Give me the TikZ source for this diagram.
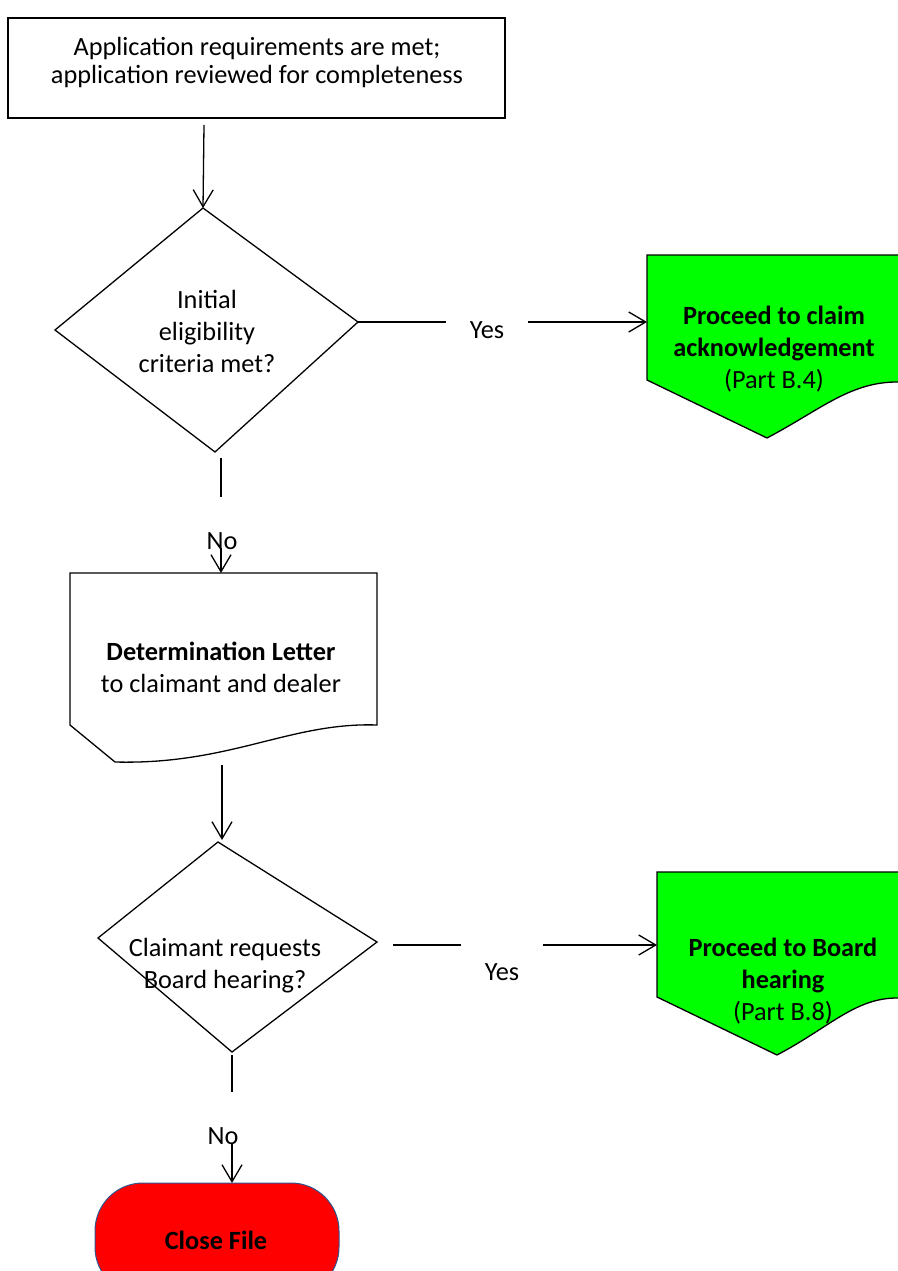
\documentclass[tikz,border=0pt]{standalone}
\usepackage{fontspec}
\setmainfont{Carlito}
\usetikzlibrary{arrows.meta}

\definecolor{okgreen}{RGB}{0,255,0}
\definecolor{stopred}{RGB}{255,0,0}
\definecolor{stopedge}{RGB}{47,82,143}

\tikzset{
	line/.style = {line width=1.3pt},
	flow/.style = {line width=1.3pt, -{Straight Barb[length=17pt, width=20pt]}},
	txt/.style = {align=center, inner sep=0pt, font=\fontsize{26.3}{32}\selectfont},
}

\begin{document}
\begin{tikzpicture}[x=1pt, y=-1pt]

	\useasboundingbox (0, 0) rectangle (897, 1271);

	% start box
	\draw[line] (8, 18) rectangle (505, 118);
	\node[txt, font=\fontsize{26.3}{28}\selectfont] (appl) at (257, 62)
		{Application requirements are met;\\application reviewed for completeness};

	% first decision
	\coordinate (d1t) at (203, 208);
	\coordinate (d1r) at (358, 322);
	\coordinate (d1b) at (215, 452);
	\coordinate (d1l) at (55, 330);
	\draw[line] (d1t) -- (d1r) -- (d1b) -- (d1l) -- cycle;
	\node[txt] (elig) at (207, 331) {Initial\\eligibility\\criteria met?};

	\coordinate (a1) at (204, 125);
	\draw[flow] (a1) -- (d1t);

	% yes -> claim acknowledgement
	\coordinate (g1l) at (647, 322);
	\fill[okgreen] (647, 255) -- (920, 255) -- (920, 382) -- (897, 382)
		.. controls (850, 382) and (820, 410) .. (767, 438) -- (647, 380) -- cycle;
	\draw[line] (920, 382) -- (897, 382) .. controls (850, 382) and (820, 410) .. (767, 438)
		-- (647, 380) -- (647, 255) -- (920, 255);
	\node[txt] (ack) at (774, 349)
		{\textbf{Proceed to claim}\\\textbf{acknowledgement}\\(Part B.4)};

	\coordinate (y1a) at (446, 322);
	\coordinate (y1b) at (528, 322);
	\draw[line] (d1r) -- (y1a);
	\node[txt] (yes1) at (487, 330) {Yes};
	\draw[flow] (y1b) -- (g1l);

	% no -> letter
	\coordinate (n1a) at (221, 458);
	\coordinate (n1b) at (221, 497);
	\coordinate (n1c) at (221, 548);
	\coordinate (lt) at (221, 573);
	\draw[line] (n1a) -- (n1b);
	\node[txt] (no1) at (222, 541) {No};
	\draw[flow] (n1c) -- (lt);

	\draw[line] (70, 573) -- (377, 573) -- (377, 725)
		.. controls (290, 722) and (230, 765) .. (115, 762) -- (70, 725) -- cycle;
	\node[txt] (letter) at (221, 667)
		{\textbf{Determination Letter}\\to claimant and dealer};

	% second decision
	\coordinate (d2t) at (218, 842);
	\coordinate (d2r) at (377, 942);
	\coordinate (d2b) at (232, 1052);
	\coordinate (d2l) at (98, 938);
	\draw[line] (d2t) -- (d2r) -- (d2b) -- (d2l) -- cycle;
	\node[txt] (board) at (225, 966) {Claimant requests\\Board hearing?};

	\coordinate (a2) at (222, 765);
	\coordinate (a2e) at (222, 840);
	\draw[flow] (a2) -- (a2e);

	% yes -> board hearing
	\coordinate (g2l) at (657, 945);
	\fill[okgreen] (657, 872) -- (920, 872) -- (920, 998) -- (897, 998)
		.. controls (855, 998) and (830, 1027) .. (777, 1055) -- (657, 997) -- cycle;
	\draw[line] (920, 998) -- (897, 998) .. controls (855, 998) and (830, 1027) .. (777, 1055)
		-- (657, 997) -- (657, 872) -- (920, 872);
	\node[txt] (hear) at (783, 981)
		{\textbf{Proceed to Board}\\\textbf{hearing}\\(Part B.8)};

	\coordinate (y2a) at (393, 945);
	\coordinate (y2b) at (461, 945);
	\coordinate (y2c) at (543, 945);
	\draw[line] (y2a) -- (y2b);
	\node[txt] (yes2) at (502, 972) {Yes};
	\draw[flow] (y2c) -- (g2l);

	% no -> close
	\coordinate (n2a) at (232, 1055);
	\coordinate (n2b) at (232, 1092);
	\coordinate (n2c) at (232, 1143);
	\coordinate (ct) at (232, 1183);
	\draw[line] (n2a) -- (n2b);
	\node[txt] (no2) at (223, 1136) {No};
	\draw[flow] (n2c) -- (ct);

	\draw[stopedge, fill=stopred, line width=1pt, rounded corners=48] (95, 1183) rectangle (339, 1295);
	\node[txt] (close) at (216, 1240) {\textbf{Close File}};

\end{tikzpicture}
\end{document}
